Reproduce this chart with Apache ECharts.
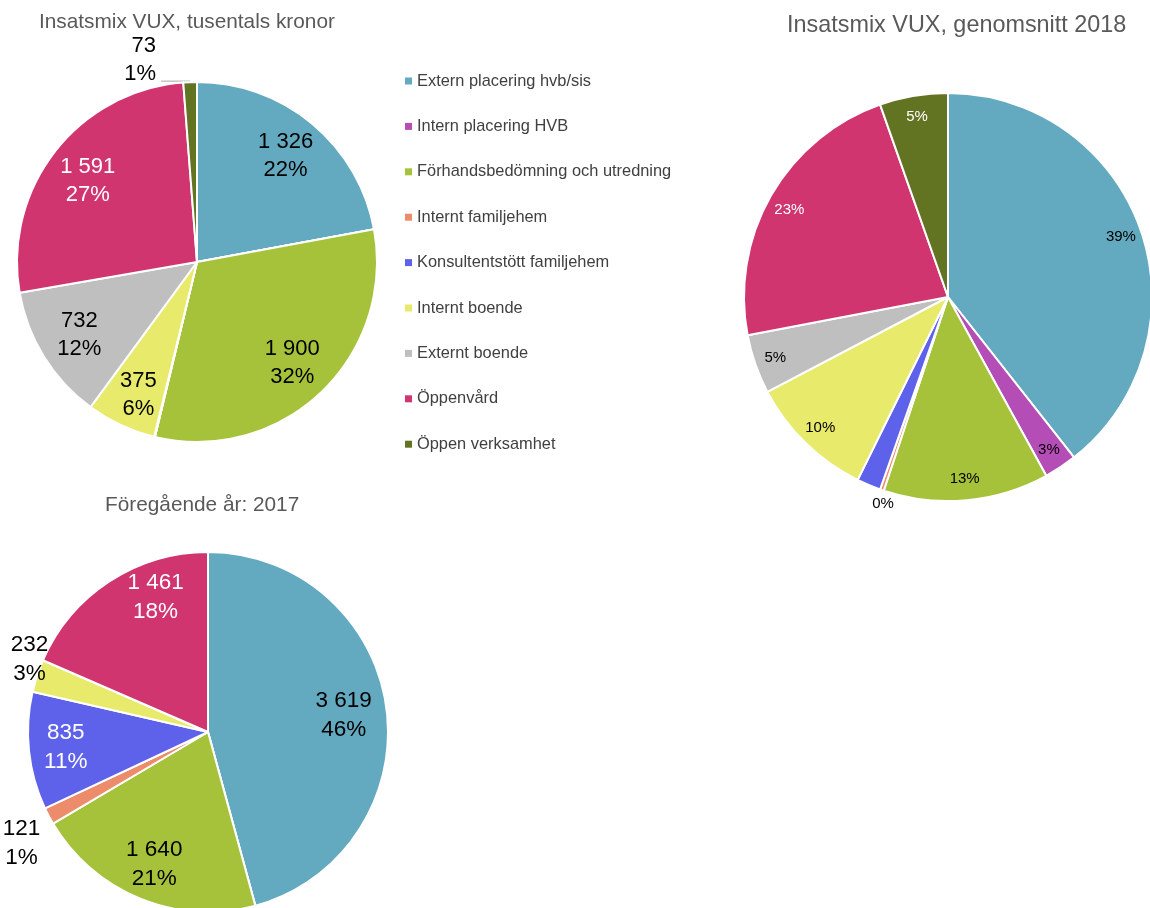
<!DOCTYPE html>
<html>
<head>
<meta charset="utf-8">
<script src="https://cdn.jsdelivr.net/npm/echarts@6/dist/echarts.min.js"></script>
<style>
  html, body { margin: 0; padding: 0; background: #ffffff; }
  #chart { width: 1150px; height: 908px; }
</style>
</head>
<body>
<div id="chart"></div>
<script>
// Insatskategorier (legendens ordning = sektorernas ordning medurs från kl. 12)
const categories = [
  'Extern placering hvb/sis',
  'Intern placering HVB',
  'Förhandsbedömning och utredning',
  'Internt familjehem',
  'Konsultentstött familjehem',
  'Internt boende',
  'Externt boende',
  'Öppenvård',
  'Öppen verksamhet'
];
const sliceColors = ['#63a9c0', '#b54db6', '#a5c23a', '#ec8c6a', '#5e62ea', '#e8ea6b', '#bfbfbf', '#d13570', '#627322'];

// Kostnad per insats 2018, tusentals kronor
const kronor2018 = [1326, 0, 1900, 0, 4, 375, 732, 1591, 73];
// Genomsnittlig fördelning 2018, procent
const snitt2018 = [39.4, 2.6, 13.1, 0.3, 1.9, 10.0, 4.7, 22.6, 5.4];
// Kostnad per insats 2017, tusentals kronor
const kronor2017 = [3619, 0, 1640, 121, 835, 232, 0, 1461, 0];

const titleTexts = ['Insatsmix VUX, tusentals kronor', 'Insatsmix VUX, genomsnitt 2018', 'Föregående år: 2017'];

const FONT = '"Liberation Sans", Arial, Helvetica, sans-serif';
const thousands = v => String(v).replace(/\B(?=(\d{3})+(?!\d))/g, ' ');

// Builds one pie: the visible slices, a transparent ring carrying the inside
// labels, and (optionally) a transparent outer ring carrying labels beside small slices.
function buildPie(cfg) {
  const base = {
    type: 'pie', center: cfg.center, startAngle: 90, clockwise: true,
    percentPrecision: 0, animation: false, emphasis: { disabled: true }
  };
  const fmt = cfg.withValue
    ? p => thousands(p.value) + '\n' + p.percent + '%'
    : p => p.percent + '%';
  const textBase = { fontFamily: FONT, fontSize: cfg.fontSize, lineHeight: cfg.lineHeight, formatter: fmt };
  const nudge = cfg.nudge || {};
  const nudgeLayout = p => {
    const d = nudge[categories[p.dataIndex]];
    return d ? { dx: d[0], dy: d[1] } : {};
  };
  const leader = cfg.leader || [];
  const outer = cfg.outer || [];
  const hidden = cfg.hidden || [];
  const white = cfg.white || [];

  const list = [];
  list.push(Object.assign({}, base, {
    radius: cfg.r,
    itemStyle: { borderColor: '#ffffff', borderWidth: 2 },
    label: Object.assign({ show: false, position: 'outside', color: '#000000' }, textBase),
    labelLine: { show: false, length: 1, length2: 29, lineStyle: { color: '#a6a6a6', width: 1 } },
    labelLayout: p => {
      if (leader.includes(categories[p.dataIndex])) {
        return { dy: cfg.leaderShift, labelLinePoints: p.labelLinePoints };
      }
      return {};
    },
    data: categories.map((name, i) => ({
      name, value: cfg.values[i],
      itemStyle: { color: sliceColors[i] },
      label: { show: leader.includes(name) },
      labelLine: { show: leader.includes(name) }
    }))
  }));

  list.push(Object.assign({}, base, {
    radius: [cfg.innerR0, cfg.r], silent: true,
    itemStyle: { color: 'rgba(0,0,0,0)', borderWidth: 0 },
    label: Object.assign({ position: 'inside' }, textBase),
    labelLine: { show: false },
    labelLayout: nudgeLayout,
    data: categories.map((name, i) => ({
      name, value: cfg.values[i],
      label: {
        show: cfg.values[i] > 0 && !hidden.includes(name) && !leader.includes(name) && !outer.includes(name),
        color: white.includes(name) ? '#ffffff' : '#000000'
      }
    }))
  }));

  if (outer.length) {
    list.push(Object.assign({}, base, {
      radius: [cfg.r, cfg.outerR1], silent: true,
      itemStyle: { color: 'rgba(0,0,0,0)', borderWidth: 0 },
      label: Object.assign({ position: 'inside', color: '#000000' }, textBase),
      labelLine: { show: false },
      labelLayout: nudgeLayout,
      data: categories.map((name, i) => ({
        name, value: cfg.values[i],
        label: { show: outer.includes(name) }
      }))
    }));
  }
  return list;
}

const series = [].concat(
  buildPie({
    values: kronor2018, center: [197, 262], r: 180, innerR0: 91,
    withValue: true, fontSize: 22, lineHeight: 28,
    white: ['Öppenvård'], hidden: ['Konsultentstött familjehem'],
    leader: ['Öppen verksamhet'], leaderShift: -21,
    nudge: { 'Internt boende': [0, 7], 'Öppenvård': [0, 4] }
  }),
  buildPie({
    values: snitt2018, center: [948, 297], r: 204, innerR0: 156, outerR1: 228,
    withValue: false, fontSize: 15, lineHeight: 18,
    white: ['Öppenvård', 'Öppen verksamhet'], hidden: ['Konsultentstött familjehem'],
    outer: ['Internt familjehem'],
    nudge: { 'Internt familjehem': [6, 0], 'Öppenvård': [0, 4] }
  }),
  buildPie({
    values: kronor2017, center: [208, 732], r: 180, innerR0: 100, outerR1: 236,
    withValue: true, fontSize: 22.5, lineHeight: 29,
    white: ['Öppenvård', 'Konsultentstött familjehem'],
    outer: ['Internt familjehem', 'Internt boende'],
    nudge: {
      'Extern placering hvb/sis': [-6, 2],
      'Öppenvård': [26, -15],
      'Internt familjehem': [0, 13],
      'Internt boende': [22, -7]
    }
  })
);

const titleStyle = size => ({ fontFamily: FONT, fontSize: size, lineHeight: Math.round(size * 1.25), fontWeight: 'normal', color: '#595959' });

const option = {
  backgroundColor: '#ffffff',
  animation: false,
  title: [
    { text: titleTexts[0], left: 39, top: 9, padding: 0, textStyle: titleStyle(20.8) },
    { text: titleTexts[1], left: 787, top: 11, padding: 0, textStyle: titleStyle(23.4) },
    { text: titleTexts[2], left: 105, top: 492, padding: 0, textStyle: titleStyle(20.8) }
  ],
  legend: {
    orient: 'vertical', left: 405, top: 71, padding: 0,
    icon: 'rect', itemWidth: 7, itemHeight: 7, itemGap: 25.4,
    selectedMode: false,
    itemStyle: { borderWidth: 0 },
    textStyle: { fontFamily: FONT, fontSize: 16.4, lineHeight: 20, color: '#404040' },
    data: categories
  },
  series
};

const chart = echarts.init(document.getElementById('chart'), null, { renderer: 'canvas' });
chart.setOption(option);
</script>
</body>
</html>
